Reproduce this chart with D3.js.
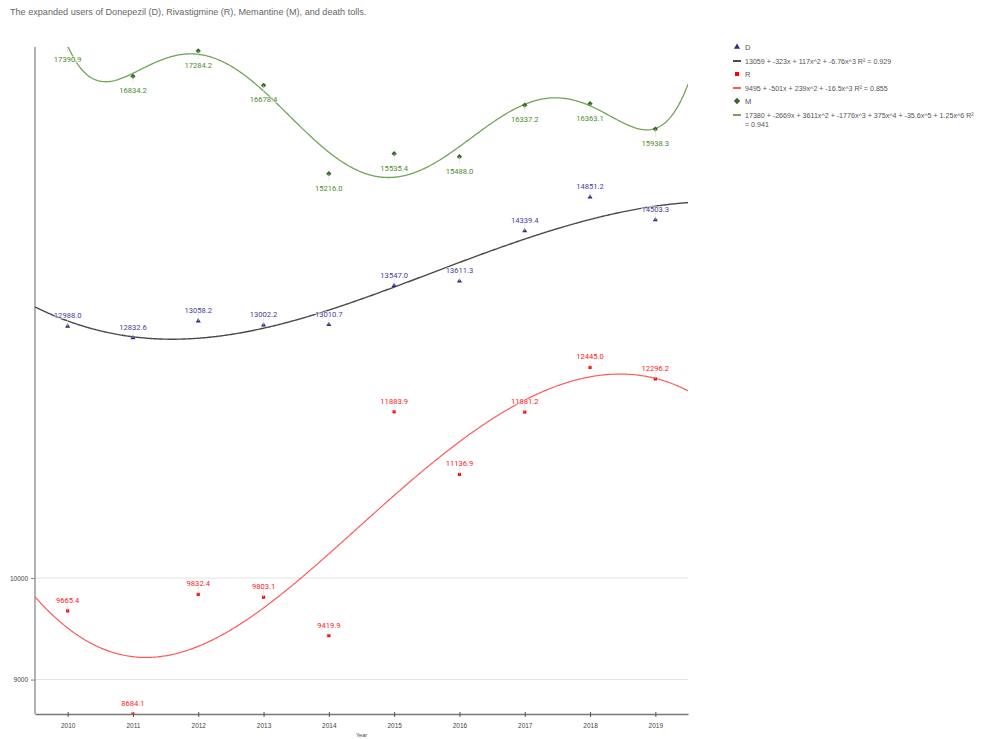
<!DOCTYPE html>
<html>
<head>
<meta charset="utf-8">
<script src="https://cdn.jsdelivr.net/npm/d3@7"></script>
<style>
  body { margin: 0; background: #fff; }
  svg { display: block; font-family: "Liberation Sans", Arial, sans-serif; }
</style>
</head>
<body>
<svg id="chart" width="983" height="739"></svg>
<script>
// Yearly counts for the three drugs
const years = [2010, 2011, 2012, 2013, 2014, 2015, 2016, 2017, 2018, 2019];
const donepezil = [12988.0, 12832.6, 13058.2, 13002.2, 13010.7, 13547.0, 13611.3, 14339.4, 14851.2, 14503.3];
const rivastigmine = [9665.4, 8684.1, 9832.4, 9803.1, 9419.9, 11883.9, 11136.9, 11881.2, 12445.0, 12296.2];
const memantine = [17390.9, 16834.2, 17284.2, 16678.4, 15216.0, 15535.4, 15488.0, 16337.2, 16363.1, 15938.3];
const yTicks = [9000, 10000];
const legendText = [
  "D",
  "13059 + -323x + 117x^2 + -6.76x^3 R² = 0.929",
  "R",
  "9495 + -501x + 239x^2 + -16.5x^3 R² = 0.855",
  "M",
  ["17380 + -2669x + 3611x^2 + -1776x^3 + 375x^4 + -35.6x^5 + 1.25x^6 R²", "= 0.941"]
];

// rotated square used as the diamond marker
const symbolRhomb = {
  draw(ctx, size) {
    const r = Math.sqrt(size / 2);
    ctx.moveTo(0, -r); ctx.lineTo(r, 0); ctx.lineTo(0, r); ctx.lineTo(-r, 0); ctx.closePath();
  }
};

const series = [
  { key: "D", values: donepezil, degree: 3, marker: d3.symbolTriangle, size: 11, color: "#2e2a86", label: "#4a3c9c", trend: "#4a4a4a", trendW: 1.4, labelPos: "above" },
  { key: "R", values: rivastigmine, degree: 3, marker: d3.symbolSquare, size: 10, color: "#ff0000", label: "#ff1a1a", trend: "#ff5a5a", trendW: 1.2, labelPos: "above" },
  { key: "M", values: memantine, degree: 6, marker: symbolRhomb, size: 14, color: "#2f6b1e", label: "#4e8a2e", trend: "#72a558", trendW: 1.3, labelPos: "below" }
];

// least-squares polynomial fit on index x = 0..n-1 (x is rescaled for stability)
function polyFit(ys, deg) {
  const n = ys.length, c = (n - 1) / 2, s = (n - 1) / 2;
  const m = deg + 1;
  const A = Array.from({ length: m }, () => new Array(m).fill(0));
  const b = new Array(m).fill(0);
  ys.forEach((yv, i) => {
    const t = (i - c) / s;
    const p = [];
    for (let k = 0; k < m; k++) p.push(Math.pow(t, k));
    for (let r = 0; r < m; r++) {
      b[r] += p[r] * yv;
      for (let q = 0; q < m; q++) A[r][q] += p[r] * p[q];
    }
  });
  for (let col = 0; col < m; col++) {
    let piv = col;
    for (let r = col + 1; r < m; r++) if (Math.abs(A[r][col]) > Math.abs(A[piv][col])) piv = r;
    [A[col], A[piv]] = [A[piv], A[col]];
    [b[col], b[piv]] = [b[piv], b[col]];
    for (let r = col + 1; r < m; r++) {
      const f = A[r][col] / A[col][col];
      for (let q = col; q < m; q++) A[r][q] -= f * A[col][q];
      b[r] -= f * b[col];
    }
  }
  const coef = new Array(m).fill(0);
  for (let r = m - 1; r >= 0; r--) {
    let sum = b[r];
    for (let q = r + 1; q < m; q++) sum -= A[r][q] * coef[q];
    coef[r] = sum / A[r][r];
  }
  return xv => {
    const t = (xv - c) / s;
    let v = 0;
    for (let k = m - 1; k >= 0; k--) v = v * t + coef[k];
    return v;
  };
}

const svg = d3.select("#chart");
const plotL = 35, plotR = 688, plotT = 45, plotB = 714;

const x = d3.scalePoint().domain(years).range([plotL, plotR]).padding(0.5);
const xi = d3.scaleLinear().domain([0, years.length - 1]).range([x(years[0]), x(years[years.length - 1])]);
const allVals = donepezil.concat(rivastigmine, memantine);
const y = d3.scaleLog().domain([d3.min(allVals), d3.max(allVals)]).range([plotB, plotT]);

// title
svg.append("text").attr("x", 10).attr("y", 15)
  .attr("font-size", 9.1).attr("fill", "#666")
  .text("The expanded users of Donepezil (D), Rivastigmine (R), Memantine (M), and death tolls.");

// grid lines
svg.append("g").selectAll("line").data(yTicks).join("line")
  .attr("x1", plotL).attr("x2", plotR)
  .attr("y1", d => y(d)).attr("y2", d => y(d))
  .attr("stroke", "#e2e2e2").attr("stroke-width", 1);

// axes
const yAxis = svg.append("g").attr("transform", `translate(${plotL},0)`)
  .call(d3.axisLeft(y).tickValues(yTicks).tickSize(4).tickFormat(d3.format("d")));
yAxis.select(".domain").attr("stroke", "#999").attr("stroke-width", 1.5).attr("d", `M0,${plotT + 2}V${plotB}`);
yAxis.selectAll(".tick line").attr("stroke", "#888");
yAxis.selectAll(".tick text").attr("font-size", 6.5).attr("fill", "#444").attr("font-family", "Liberation Sans, Arial, sans-serif");

const xAxis = svg.append("g").attr("transform", `translate(0,${plotB})`)
  .call(d3.axisBottom(x).tickSize(5).tickSizeOuter(0));
xAxis.select(".domain").attr("stroke", "#777").attr("stroke-width", 1.5);
xAxis.selectAll(".tick line").attr("stroke", "#555").attr("transform", "translate(0,-2)");
xAxis.selectAll(".tick text").attr("font-size", 6.5).attr("fill", "#444").attr("dy", "0.9em").attr("font-family", "Liberation Sans, Arial, sans-serif");

svg.append("text").attr("x", (plotL + plotR) / 2).attr("y", 739 - 2)
  .attr("text-anchor", "middle").attr("font-size", 5.5).attr("fill", "#444").text("Year");

// clip to plot area
svg.append("clipPath").attr("id", "plot").append("rect")
  .attr("x", plotL).attr("y", plotT + 2).attr("width", plotR - plotL).attr("height", plotB - plotT - 2);
const plot = svg.append("g").attr("clip-path", "url(#plot)");

// trend curves
const samples = d3.range(-0.5, 9.5001, 0.02);
const line = d3.line().x(d => xi(d[0])).y(d => y(Math.max(d[1], 1000)));
series.forEach(s => {
  const f = polyFit(s.values, s.degree);
  plot.append("path").datum(samples.map(t => [t, f(t)]))
    .attr("fill", "none").attr("stroke", s.trend).attr("stroke-width", s.trendW)
    .attr("d", line);
});

// markers, leader lines and value labels
series.forEach(s => {
  const g = svg.append("g");
  const pts = s.values.map((v, i) => ({ year: years[i], v }));
  const dir = s.labelPos === "above" ? -1 : 1;
  g.selectAll("line").data(pts).join("line")
    .attr("x1", d => x(d.year)).attr("x2", d => x(d.year))
    .attr("y1", d => y(d.v)).attr("y2", d => y(d.v) + dir * 8)
    .attr("stroke", "#ddd").attr("stroke-width", 0.6);
  g.selectAll("text").data(pts).join("text")
    .attr("x", d => x(d.year))
    .attr("y", d => y(d.v) + (dir < 0 ? -8 : 17))
    .attr("text-anchor", "middle")
    .attr("font-family", "Roboto, sans-serif")
    .attr("font-size", 7.6)
    .attr("fill", s.label)
    .attr("stroke", "#fff").attr("stroke-width", 1.5).attr("stroke-opacity", 0.7).attr("paint-order", "stroke")
    .text(d => d3.format(".1f")(d.v));
  plot.append("g").selectAll("path").data(pts).join("path")
    .attr("transform", d => `translate(${x(d.year)},${y(d.v)})`)
    .attr("d", d3.symbol().type(s.marker).size(s.size))
    .attr("fill", s.color);
});

// legend
const lg = svg.append("g").attr("transform", "translate(737,0)");
const rowsY = [47, 61, 74, 88, 101, 115];
series.forEach((s, i) => {
  const ym = rowsY[i * 2], yl = rowsY[i * 2 + 1];
  lg.append("path").attr("transform", `translate(0,${ym})`)
    .attr("d", d3.symbol().type(s.marker).size(s.key === "M" ? 20 : 16)).attr("fill", s.color);
  lg.append("text").attr("x", 8).attr("y", ym + 3).attr("font-size", 7.6).attr("fill", "#555").text(legendText[i * 2]);
  lg.append("line").attr("x1", -4).attr("x2", 4).attr("y1", yl).attr("y2", yl)
    .attr("stroke", s.trend).attr("stroke-width", 2);
  const t = legendText[i * 2 + 1];
  const lines = Array.isArray(t) ? t : [t];
  lines.forEach((txt, j) => {
    lg.append("text").attr("x", 8).attr("y", yl + 3 + j * 9).attr("font-size", 7.1).attr("fill", "#555").text(txt);
  });
});
</script>
</body>
</html>
